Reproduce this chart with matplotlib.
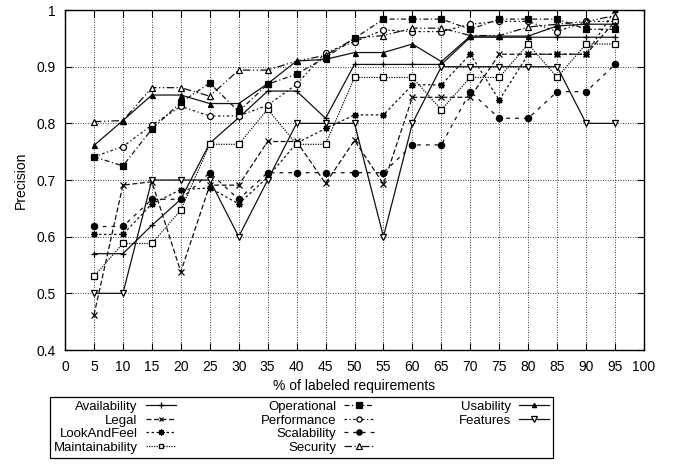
import matplotlib
matplotlib.use("Agg")
import matplotlib.pyplot as plt
from matplotlib.lines import Line2D
import numpy as np

plt.rcParams['font.family'] = ['Liberation Sans', 'DejaVu Sans']

pct = [5, 10, 15, 20, 25, 30, 35, 40, 45, 50, 55, 60, 65, 70, 75, 80, 85, 90, 95]

availability = [0.57, 0.57, 0.62, 0.666, 0.765, 0.81, 0.857, 0.857, 0.809, 0.904, 0.904,
                0.904, 0.904, 0.952, 0.952, 0.952, 0.952, 0.952, 0.952]
legal = [0.462, 0.691, 0.697, 0.538, 0.691, 0.691, 0.768, 0.768, 0.694, 0.77, 0.693,
         0.846, 0.846, 0.846, 0.922, 0.922, 0.922, 0.922, 0.98]
look_and_feel = [0.604, 0.604, 0.658, 0.683, 0.686, 0.658, 0.705, 0.765, 0.791, 0.815, 0.815,
                 0.868, 0.868, 0.922, 0.841, 0.922, 0.922, 0.922, 1.0]
maintainability = [0.53, 0.588, 0.588, 0.647, 0.763, 0.763, 0.825, 0.763, 0.763, 0.881, 0.881,
                   0.881, 0.824, 0.881, 0.881, 0.94, 0.881, 0.94, 0.94]
operational = [0.741, 0.725, 0.79, 0.837, 0.871, 0.821, 0.869, 0.887, 0.916, 0.95, 0.984,
               0.984, 0.984, 0.966, 0.984, 0.984, 0.984, 0.966, 0.966]
performance = [0.741, 0.759, 0.797, 0.83, 0.813, 0.813, 0.832, 0.869, 0.925, 0.944, 0.965,
               0.962, 0.962, 0.975, 0.98, 0.98, 0.962, 0.98, 0.98]
scalability = [0.618, 0.618, 0.666, 0.666, 0.713, 0.666, 0.713, 0.713, 0.713, 0.713, 0.713,
               0.762, 0.762, 0.856, 0.809, 0.809, 0.856, 0.856, 0.904]
security = [0.803, 0.805, 0.863, 0.863, 0.848, 0.894, 0.894, 0.91, 0.92, 0.95, 0.955,
            0.968, 0.968, 0.955, 0.955, 0.97, 0.975, 0.98, 0.99]
usability = [0.761, 0.805, 0.85, 0.85, 0.835, 0.835, 0.87, 0.91, 0.913, 0.925, 0.925,
             0.94, 0.909, 0.954, 0.954, 0.954, 0.972, 0.975, 0.975]
features = [0.5, 0.5, 0.7, 0.7, 0.7, 0.6, 0.7, 0.8, 0.8, 0.8, 0.6,
            0.8, 0.9, 0.9, 0.9, 0.9, 0.9, 0.8, 0.8]

# label, values, linestyle, marker, filled, size
series = [
    ("Availability", availability, '-', '+', True, 5),
    ("Legal", legal, (0, (4, 2)), 'x', True, 4),
    ("LookAndFeel", look_and_feel, (0, (2, 2)), (8, 2, 0), True, 5),
    ("Maintainability", maintainability, (0, (1, 1)), 's', False, 4.2),
    ("Operational", operational, (0, (4, 2, 1, 2)), 's', True, 5),
    ("Performance", performance, (0, (2, 2, 1, 2)), 'o', False, 4.3),
    ("Scalability", scalability, (0, (3, 4)), 'o', True, 4.5),
    ("Security", security, (0, (6, 2, 1, 2, 1, 2)), '^', False, 4.5),
    ("Usability", usability, '-', '^', True, 3.6),
    ("Features", features, '-', 'v', False, 4.5),
]

fig = plt.figure(figsize=(6.73, 4.67), dpi=100)
ax = fig.add_axes([0.0966, 0.2505, 0.8603, 0.728])

handles = []
for label, vals, ls, mk, filled, ms in series:
    h, = ax.plot(pct, vals, linestyle=ls, color='#111111', linewidth=0.9,
                 marker=mk, markersize=ms, markeredgewidth=0.9,
                 markerfacecolor='black' if filled else 'white',
                 markeredgecolor='black', label=label,
                 zorder=3 if label == "Operational" else 2)
    handles.append(h)

ax.set_xlim(0, 100)
ax.set_ylim(0.4, 1.0)
ax.set_xticks(np.arange(0, 101, 5))
ax.set_yticks(np.arange(0.4, 1.01, 0.1))
ax.set_yticklabels(["0.4", "0.5", "0.6", "0.7", "0.8", "0.9", "1"])
ax.tick_params(direction='in', top=True, right=True, length=5, width=0.8,
               labelsize=10, pad=7)
ax.grid(True, color='black', linestyle=(0, (1, 2)), linewidth=0.6)
for s in ax.spines.values():
    s.set_linewidth(1.0)

ax.set_xlabel("% of labeled requirements", fontsize=10, labelpad=4)
ax.set_ylabel("Precision", fontsize=10, labelpad=6)

# two blank entries so the columns fill 4, 4, 2
blank = Line2D([], [], linestyle='none', marker=None)
labels = [s[0] for s in series] + ['', '']
handles = handles + [blank, blank]

leg = fig.legend(handles, labels, loc='lower left',
                 bbox_to_anchor=(0.064, 0.006, 0.768, 0.14),
                 mode='expand', ncol=3, markerfirst=False, fancybox=False,
                 edgecolor='black', framealpha=1, handlelength=2.3,
                 labelspacing=0.1, borderpad=0.3, handletextpad=0.6,
                 fontsize=9.5, markerscale=0.85)
leg.get_frame().set_linewidth(0.9)

fig.savefig("out.png", dpi=100)
